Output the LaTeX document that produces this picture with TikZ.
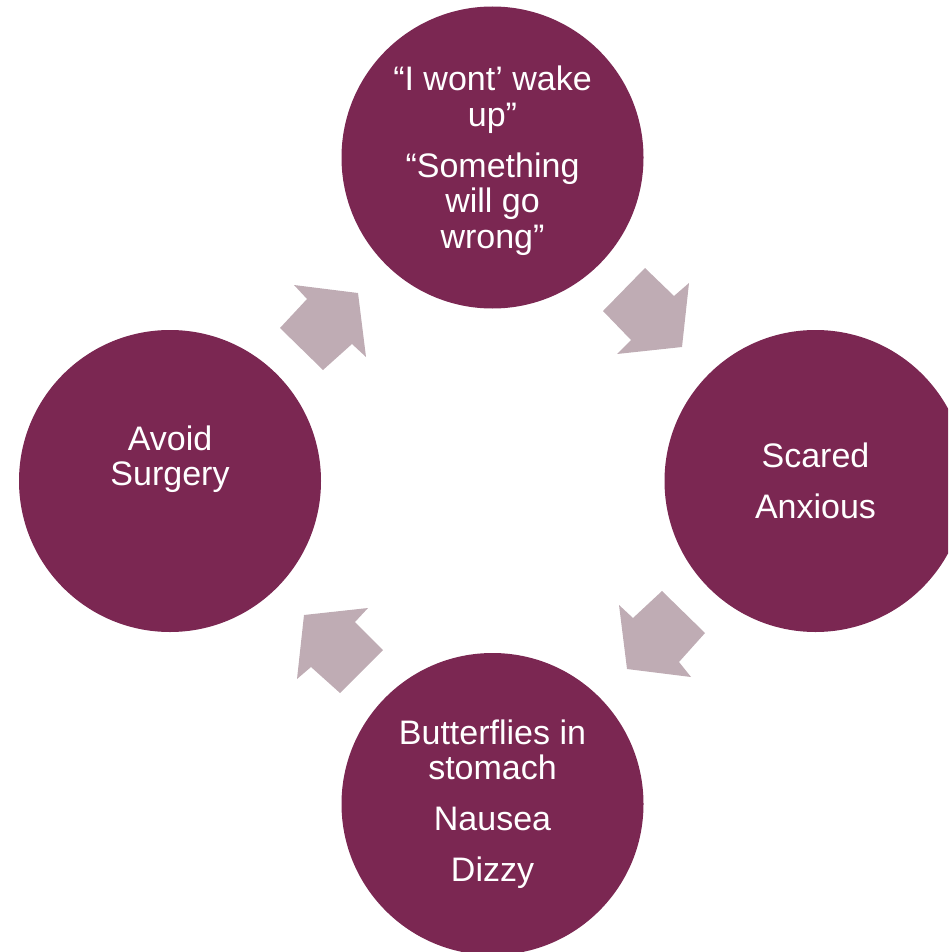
\documentclass[tikz,border=0pt]{standalone}
\usepackage{fontspec}
\setmainfont{Liberation Sans}
\definecolor{plum}{HTML}{7B2752}
\definecolor{mauve}{HTML}{BFACB4}
\begin{document}
\begin{tikzpicture}[x=1pt,y=-1pt,
  bubble/.style={circle,fill=plum,draw=none,minimum size=302pt,inner sep=0pt},
  label/.style={text=white,align=center,font=\fontsize{34}{35.5}\selectfont,inner sep=0pt},
  blockarrow/.style={fill=mauve,draw=none}]
\useasboundingbox (0,0) rectangle (948,952);
\clip (0,0) rectangle (948,952);
% circles
\node[bubble] (top) at (492.5,157.5) {};
\node[bubble] (right) at (815.5,481) {};
\node[bubble] (left) at (170,481) {};
\node[bubble] (bottom) at (492.5,804) {};
% texts
\node[label] (ttop) at ([yshift=-3pt]top.center) {“I wont’ wake\\up”\\[15.5pt]“Something\\will go\\wrong”};
\node[label] (tright) at (right.center) {Scared\\[15pt]Anxious};
\node[label] (tleft) at ([yshift=22pt]left.center) {Avoid\\Surgery};
\node[label] (tbottom) at (bottom.center) {Butterflies in\\stomach\\[15.5pt]Nausea\\[15pt]Dizzy};
% block arrows
\fill[blockarrow] (280,328) -- (307,299) -- (294,285) -- (358,293) -- (366,357) -- (352,344) -- (323,370) -- cycle;
\fill[blockarrow] (645,268) -- (674,296) -- (689,283) -- (682,347) -- (617,354) -- (631,340) -- (603,311) -- cycle;
\fill[blockarrow] (705,633) -- (662,591) -- (633,618) -- (619,605) -- (627,669) -- (691,677) -- (679,662) -- cycle;
\fill[blockarrow] (368,608) -- (355,622) -- (383,650) -- (340,693) -- (311,667) -- (297,679) -- (304,615) -- cycle;
\end{tikzpicture}
\end{document}
